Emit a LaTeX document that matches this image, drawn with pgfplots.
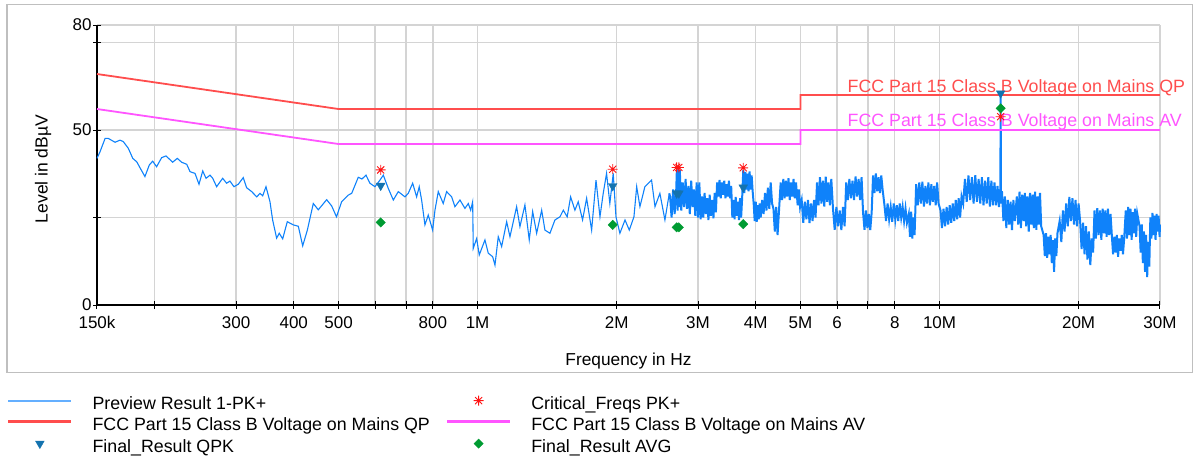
\documentclass[border=0pt]{standalone}
\usepackage{pgfplots}
\pgfplotsset{compat=1.18}
\usepackage{fontspec}
\setmainfont{Liberation Sans}
\definecolor{trace}{RGB}{15,130,250}
\definecolor{tracelegend}{RGB}{100,175,255}
\definecolor{qpred}{RGB}{255,77,77}
\definecolor{avmag}{RGB}{255,85,255}
\definecolor{qpk}{RGB}{20,115,175}
\definecolor{avg}{RGB}{0,155,50}
\definecolor{ast}{RGB}{255,20,20}
\definecolor{gridc}{RGB}{212,212,212}
\pgfdeclareplotmark{ast8}{%
  \pgfpathmoveto{\pgfqpoint{0pt}{\pgfplotmarksize}}\pgfpathlineto{\pgfqpoint{0pt}{-\pgfplotmarksize}}%
  \pgfpathmoveto{\pgfqpoint{\pgfplotmarksize}{0pt}}\pgfpathlineto{\pgfqpoint{-\pgfplotmarksize}{0pt}}%
  \pgfpathmoveto{\pgfqpoint{0.707\pgfplotmarksize}{0.707\pgfplotmarksize}}\pgfpathlineto{\pgfqpoint{-0.707\pgfplotmarksize}{-0.707\pgfplotmarksize}}%
  \pgfpathmoveto{\pgfqpoint{-0.707\pgfplotmarksize}{0.707\pgfplotmarksize}}\pgfpathlineto{\pgfqpoint{0.707\pgfplotmarksize}{-0.707\pgfplotmarksize}}%
  \pgfusepathqstroke}
\begin{document}
\begin{tikzpicture}
\useasboundingbox (0pt,0pt) rectangle (1194pt,-456pt);
\draw[black!25, line width=1.2pt] (7pt,-4.5pt) rectangle (1192.5pt,-372.5pt);
\begin{axis}[
  at={(97pt,-305pt)}, anchor=south west,
  scale only axis, width=1063pt, height=280pt,
  xmode=log, xmin=0.15, xmax=30, ymin=0, ymax=80,
  clip=false,
  axis lines=left, axis line style={-, line width=1.2pt, black},
  xtick={0.15,0.2,0.3,0.4,0.5,0.6,0.7,0.8,1,2,3,4,5,6,7,8,10,20,30},
  xticklabels={150k,,300,400,500,,,800,1M,2M,3M,4M,5M,6,,8,10M,20M,30M},
  ytick={0,25,50,75,80}, yticklabels={0,,50,,80},
  minor xtick={}, minor ytick={},
  grid=major, major grid style={gridc, line width=1.4pt},
  tick align=center, major tick length=8pt, tick style={black, line width=1pt},
  ticklabel style={font=\fontsize{17}{20}\selectfont},
  xticklabel style={yshift=-4pt},
  yticklabel style={xshift=2pt},
  every axis x label/.style={at={(axis description cs:0.5,0)}, yshift=-56pt, anchor=center, font=\fontsize{17.3}{20}\selectfont},
  every axis y label/.style={at={(axis description cs:0,0.5)}, xshift=-54pt, yshift=-4pt, rotate=90, anchor=center, font=\fontsize{17.5}{20}\selectfont},
  xlabel={Frequency in Hz}, ylabel={Level in dBµV},
  legend columns=2,
  legend cell align=left,
  legend image code/.code={\draw[mark repeat=2,mark phase=2,#1] plot coordinates {(0pt,5.3pt) (31.5pt,5.3pt) (63pt,5.3pt)};},
  legend style={at={(axis description cs:-0.0847,-0.323)}, anchor=north west, draw=none, fill=none, inner sep=0pt,
    font=\fontsize{17.8}{20}\selectfont, row sep=3pt,
    nodes={inner xsep=0pt, inner ysep=1pt, text height=12pt, text depth=4pt},
    /tikz/every odd column/.append style={column sep=20pt},
    /tikz/every even column/.append style={column sep=16pt}},
]
\addplot[trace, line width=1.1pt, no marks, forget plot] coordinates {
(0.1500,41.9) (0.1523,43.8) (0.1562,47.6) (0.1587,47.6) (0.1641,46.5) (0.1682,47.1) (0.1710,46.7) (0.1753,44.8)
(0.1793,41.9) (0.1829,40.9) (0.1859,39.2) (0.1905,36.7) (0.1947,40.0) (0.1980,41.1) (0.2019,39.5) (0.2070,42.1)
(0.2116,42.6) (0.2187,40.8) (0.2238,41.9) (0.2287,40.8) (0.2346,40.2) (0.2385,38.1) (0.2445,37.6) (0.2494,34.5)
(0.2541,38.3) (0.2583,36.2) (0.2635,37.1) (0.2671,36.2) (0.2723,33.8) (0.2806,36.2) (0.2862,34.8) (0.2910,35.4)
(0.2969,33.8) (0.3033,34.5) (0.3110,36.4) (0.3163,33.5) (0.3243,32.4) (0.3326,30.9) (0.3380,31.9) (0.3426,31.2)
(0.3483,33.8) (0.3553,29.5) (0.3600,24.3) (0.3673,19.1) (0.3721,20.5) (0.3785,18.9) (0.3873,23.8) (0.3990,22.9)
(0.4092,22.5) (0.4182,16.9) (0.4280,21.4) (0.4409,29.0) (0.4520,27.2) (0.4713,30.1) (0.4832,28.3) (0.4949,25.2)
(0.5078,29.5) (0.5249,31.4) (0.5339,31.9) (0.5517,36.5) (0.5619,36.0) (0.5733,37.1) (0.5847,34.8) (0.5995,33.8)
(0.6148,35.7) (0.6251,37.1) (0.6408,33.3) (0.6570,30.0) (0.6735,32.4) (0.6963,30.9) (0.7078,31.9) (0.7235,34.8)
(0.7380,30.9) (0.7476,33.8) (0.7566,30.0) (0.7693,22.9) (0.7820,25.7) (0.7993,21.4) (0.8086,27.1) (0.8220,32.4)
(0.8426,29.0) (0.8569,32.4) (0.8786,30.9) (0.8932,28.1) (0.9159,30.0) (0.9389,27.6) (0.9546,29.0) (0.9660,27.1)
(0.9757,29.5) (0.9786,16.2) (0.9953,19.0) (1.0083,14.3) (1.0374,18.6) (1.0547,14.8) (1.0780,13.8) (1.0905,11.4)
(1.1085,19.5) (1.1274,16.7) (1.1559,23.8) (1.1750,19.5) (1.2147,28.1) (1.2350,22.4) (1.2661,28.6) (1.2936,18.6)
(1.3158,26.7) (1.3422,20.5) (1.3762,27.1) (1.3989,21.4) (1.4342,20.5) (1.4703,24.3) (1.5076,25.2) (1.5330,27.1)
(1.5630,25.2) (1.5900,30.9) (1.6245,27.1) (1.6515,29.5) (1.6875,24.3) (1.7220,30.5) (1.7655,21.4) (1.8045,35.7)
(1.8405,25.2) (1.8705,31.9) (1.9020,37.6) (1.9335,29.0) (1.9665,37.6) (1.9935,25.2) (2.0325,20.5) (2.0850,24.3)
(2.130,21.4) (2.180,25.2) (2.210,33.8) (2.246,28.1) (2.302,33.8) (2.380,35.7) (2.421,28.1) (2.481,31.9)
(2.544,24.3) (2.600,31.9)
};
\addplot[trace, line width=2pt, no marks, forget plot] coordinates {
(2.600,31.9)
(2.61,31) (2.63,25) (2.65,33) (2.67,26) (2.69,32) (2.70,38.6) (2.71,27) (2.72,38.8) (2.73,28) (2.74,38.5)
(2.76,27) (2.78,35) (2.80,28) (2.82,36) (2.84,27.5) (2.86,34) (2.88,26) (2.90,35.5) (2.92,28) (2.94,33)
(2.96,25.5) (2.98,35) (3.00,25) (3.02,35) (3.04,24.5) (3.06,31) (3.08,25) (3.10,32) (3.12,26) (3.14,30.5)
(3.16,24.3) (3.18,31.5) (3.20,25.5) (3.22,30) (3.24,24.8) (3.26,32) (3.28,26.5) (3.30,35) (3.32,31) (3.34,35.7)
(3.36,30.5) (3.38,35) (3.40,31.5) (3.42,35.5) (3.44,30.5) (3.46,34.5) (3.48,31) (3.50,35.5) (3.52,30.5) (3.54,34)
(3.56,25) (3.58,30) (3.60,24.5) (3.62,30.9) (3.64,25.5) (3.66,29.5) (3.68,24.3) (3.70,30.5) (3.72,25) (3.74,31)
(3.76,38.6) (3.78,32) (3.80,38) (3.82,33) (3.84,37.5) (3.86,32.5) (3.88,38.2) (3.90,33) (3.92,37) (3.94,32.5)
(3.96,29) (3.98,24) (4.00,29.5) (4.02,23.8) (4.04,28.5) (4.06,24.5) (4.08,29) (4.10,25) (4.13,30) (4.16,26)
(4.19,32) (4.22,27) (4.25,33.5) (4.28,27.5) (4.31,35) (4.34,29) (4.37,27.5) (4.40,21) (4.43,28) (4.46,20)
(4.49,26.5) (4.53,35) (4.56,30) (4.59,36) (4.62,30.5) (4.65,35.5) (4.68,31) (4.71,36.2) (4.74,30) (4.77,35)
(4.80,31) (4.83,36) (4.86,30.5) (4.89,35) (4.93,28.5) (4.96,33) (4.99,28) (5.03,30) (5.07,23.5) (5.11,29.5)
(5.15,24.5) (5.19,30) (5.23,23.4) (5.27,29) (5.31,24) (5.35,30) (5.39,25) (5.43,35) (5.47,28.5) (5.51,36.5)
(5.55,29) (5.59,35.5) (5.63,28.1) (5.67,36.7) (5.71,29.5) (5.75,35) (5.79,28.5) (5.83,36) (5.88,27.5) (5.93,21.5)
(5.98,28) (6.03,22.5) (6.08,27) (6.13,21.4) (6.18,28) (6.23,22.5) (6.28,35) (6.33,30) (6.38,36) (6.43,30.5)
(6.48,35.5) (6.53,30) (6.58,36.7) (6.63,31) (6.68,36) (6.73,30) (6.78,36.5) (6.83,26.5) (6.88,21.5) (6.93,27)
(6.98,22) (7.03,26) (7.08,21.4) (7.13,26.5) (7.18,37) (7.23,32) (7.28,37.6) (7.33,32.5) (7.38,36.5) (7.43,32)
(7.48,37) (7.53,33) (7.60,28.5) (7.66,24) (7.72,29) (7.78,24.5) (7.84,28) (7.90,23.8) (7.96,29) (8.02,24.5)
(8.08,28.5) (8.14,24) (8.20,29) (8.26,25) (8.32,28) (8.38,24) (8.44,27.5) (8.50,23.5) (8.58,26) (8.63,19.5)
(8.68,26.7) (8.73,19) (8.78,25) (8.83,20) (8.90,34.5) (8.97,28.5) (9.04,35) (9.11,29) (9.18,35.2) (9.25,28.1)
(9.32,34) (9.39,29) (9.46,35) (9.53,28.5) (9.60,34.5) (9.67,29.5) (9.74,34) (9.81,28.5) (9.88,35) (9.95,29)
(10.05,27) (10.12,22) (10.20,27.5) (10.28,22.5) (10.36,28) (10.44,23) (10.52,28.5) (10.60,23.5) (10.68,29) (10.76,24)
(10.84,30) (10.92,24.5) (11.00,30.5) (11.08,25) (11.16,31) (11.25,29) (11.35,36) (11.45,29.5) (11.55,37) (11.65,30)
(11.75,36.5) (11.85,29) (11.95,37.1) (12.05,29.5) (12.15,36) (12.25,29) (12.35,36.5) (12.45,28.5) (12.55,35.5) (12.65,29)
(12.75,36.5) (12.85,28.1) (12.95,35.5) (13.05,28.5) (13.15,35) (13.25,28.5) (13.35,34) (13.45,28) (13.50,33) (13.54,29)
(13.56,60.5) (13.58,30) (13.65,32.5) (13.75,24) (13.85,31) (13.95,22) (14.05,30) (14.15,23) (14.25,29.5) (14.35,21.4)
(14.45,30) (14.55,24) (14.7,31) (14.8,23) (14.9,32.4) (15.0,22) (15.1,31.5) (15.2,24) (15.3,32) (15.4,22.5)
(15.5,31) (15.6,21) (15.7,32) (15.8,23) (15.9,31.5) (16.0,22) (16.1,32.4) (16.2,21.5) (16.3,31) (16.4,23)
(16.5,32) (16.6,22.5) (16.8,20) (16.9,14) (17.0,20.5) (17.1,13.5) (17.2,19.5) (17.3,14.5) (17.4,20) (17.5,12)
(17.6,18.5) (17.7,9.5) (17.8,19) (17.9,14) (18.0,20.5) (18.2,24) (18.35,18) (18.5,27) (18.65,21) (18.8,29)
(18.95,22.5) (19.1,30.9) (19.25,24) (19.4,30.5) (19.55,23) (19.7,30) (19.85,22.5) (20.0,29) (20.15,24) (20.3,16)
(20.45,23.5) (20.6,14.5) (20.75,22.5) (20.9,13) (21.05,21) (21.2,11.4) (21.35,19) (21.5,15) (21.65,27) (21.8,19)
(21.95,27.7) (22.1,20) (22.25,27) (22.4,18.6) (22.55,27.5) (22.7,20.5) (22.85,27) (23.0,19.5) (23.15,27.5) (23.3,20)
(23.45,26) (23.6,20) (23.75,14.5) (23.9,19.5) (24.05,15) (24.2,20) (24.35,13.8) (24.5,19) (24.65,15.5) (24.8,20)
(24.95,14.5) (25.1,19) (25.3,27) (25.45,19) (25.6,28) (25.75,20) (25.9,27.5) (26.05,18.6) (26.2,26.5) (26.35,20.5)
(26.5,27.5) (26.65,19.5) (26.8,26) (27.1,22.5) (27.25,15) (27.4,23) (27.55,12) (27.7,21) (27.85,9.5) (28.0,20)
(28.15,8) (28.3,18) (28.45,11) (28.6,25) (28.75,19) (28.9,26.3) (29.05,20) (29.2,25.5) (29.35,18.6) (29.5,26)
(29.65,21) (29.8,25.5) (29.95,19.5) (30.0,23)
};
\addlegendimage{tracelegend, line width=2.2pt, no marks}
\addlegendentry{Preview Result 1-PK+}
\addplot[ast, only marks, mark=ast8, mark size=5pt, line width=0.9pt] coordinates {
(0.617,38.6) (1.961,38.8) (2.697,39.3) (2.727,39.3) (3.759,39.2) (13.56,53.8)};
\addlegendentry{Critical\_Freqs PK+}
\addplot[qpred, line width=1.8pt, no marks, forget plot] coordinates {(0.15,66) (0.5,56) (5,56) (5,60) (30,60)};
\addlegendimage{qpred, line width=2.4pt, no marks}
\addlegendentry{FCC Part 15 Class B Voltage on Mains QP}
\addplot[avmag, line width=1.8pt, no marks, forget plot] coordinates {(0.15,56) (0.5,46) (5,46) (5,50) (30,50)};
\addlegendimage{avmag, line width=2.4pt, no marks}
\addlegendentry{FCC Part 15 Class B Voltage on Mains AV}
\node[anchor=base west, text=qpred, font=\fontsize{17.8}{20}\selectfont, inner sep=0pt, xshift=47pt, yshift=3pt] at (axis cs:5,60) {FCC Part 15 Class B Voltage on Mains QP};
\node[anchor=base west, text=avmag, font=\fontsize{17.8}{20}\selectfont, inner sep=0pt, xshift=47pt, yshift=4pt] at (axis cs:5,50) {FCC Part 15 Class B Voltage on Mains AV};
\addplot[qpk, only marks, mark=triangle*, mark size=5pt, mark options={rotate=180}] coordinates {
(0.617,34.1) (1.961,34.0) (2.697,31.9) (2.727,31.9) (3.759,33.6) (13.56,60.5)};
\addlegendentry{Final\_Result QPK}
\addplot[avg, only marks, mark=square*, mark size=3.3pt, mark options={rotate=45}] coordinates {
(0.617,23.6) (1.961,22.9) (2.697,22.2) (2.727,22.2) (3.759,23.1) (13.56,56.2)};
\addlegendentry{Final\_Result AVG}
\end{axis}
\end{tikzpicture}
\end{document}
